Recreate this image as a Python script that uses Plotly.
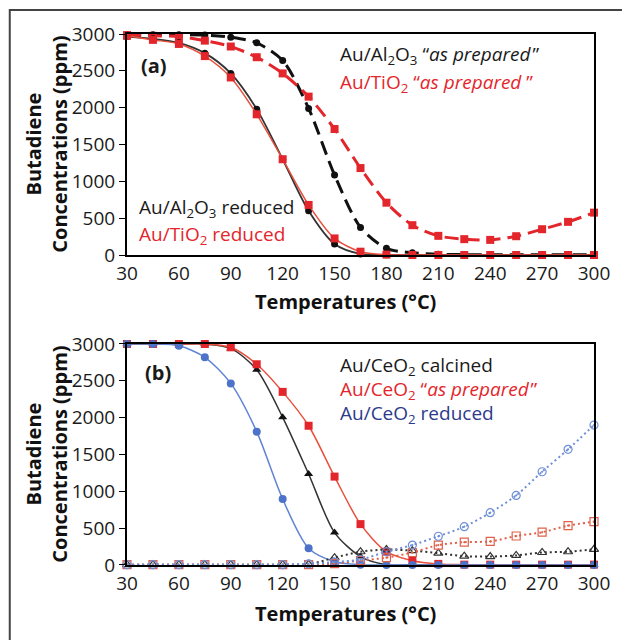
import plotly.graph_objects as go

# Reaction temperatures (°C)
temps = [30, 45, 60, 75, 90, 105, 120, 135, 150, 165, 180, 195, 210, 225, 240, 255, 270, 285, 300]

# (a) Butadiene concentration (ppm)
al2o3_prepared = [2990, 2990, 2990, 2985, 2955, 2880, 2640, 1990, 1085, 375, 90, 30, 10, 5, 5, 5, 5, 5, 5]
tio2_prepared = [2985, 2975, 2965, 2910, 2830, 2685, 2465, 2150, 1710, 1180, 710, 405, 260, 215, 205, 255, 350, 450, 575]
al2o3_reduced = [2965, 2935, 2880, 2740, 2465, 1980, 1300, 600, 150, 15, 3, 0, 0, 0, 0, 0, 0, 0, 0]
tio2_reduced = [2975, 2920, 2865, 2700, 2410, 1910, 1300, 680, 225, 45, 5, 0, 0, 0, 0, 0, 0, 0, 0]

# (b) Butadiene concentration (ppm), solid = butadiene, dotted = by-product
ceo2_calcined = [3000, 3000, 3000, 3000, 2940, 2650, 2005, 1235, 440, 115, 5, 0, 0, 0, 0, 0, 0, 0, 0]
ceo2_prepared = [3000, 3000, 3000, 3000, 2955, 2725, 2350, 1890, 1200, 555, 180, 58, 15, 5, 5, 5, 5, 5, 5]
ceo2_reduced = [3000, 3000, 2975, 2820, 2465, 1810, 895, 227, 45, 5, 0, 0, 0, 0, 0, 0, 0, 0, 0]
ceo2_calcined_dot = [5, 5, 5, 5, 5, 5, 5, 10, 100, 180, 210, 195, 160, 120, 115, 130, 170, 180, 213]
ceo2_prepared_dot = [5, 5, 5, 5, 5, 5, 5, 5, 20, 60, 100, 170, 270, 310, 320, 394, 445, 535, 588]
ceo2_reduced_dot = [5, 5, 5, 5, 5, 5, 5, 15, 40, 75, 180, 271, 390, 520, 710, 945, 1266, 1570, 1900]

x_ticks = [30, 60, 90, 120, 150, 180, 210, 240, 270, 300]
y_ticks = [0, 500, 1000, 1500, 2000, 2500, 3000]

RED = "#e3262b"
RED_LINE = "#e8503c"
BLACK = "#111111"
BLUE = "#4d72c9"
BLUE_LINE = "#5f84d4"
NAVY = "#2e3a8c"
FONT = "Open Sans"

fig = go.Figure()


def series(y, ax, line_color, width, dash, symbol, size, mcolor, mline=None, mline_w=0):
    fig.add_trace(go.Scatter(
        x=temps, y=y, xaxis="x" + ax, yaxis="y" + ax,
        mode="lines+markers", cliponaxis=False, showlegend=False,
        line=dict(color=line_color, width=width, dash=dash, shape="spline", smoothing=0.8),
        marker=dict(symbol=symbol, size=size, color=mcolor,
                    line=dict(color=mline or mcolor, width=mline_w)),
    ))


# panel (a)
series(al2o3_prepared, "", BLACK, 3, "14px,7px", "circle", 7, BLACK)
series(tio2_prepared, "", RED, 3, "14px,7px", "square", 8, RED)
series(al2o3_reduced, "", "#333333", 1.8, "solid", "circle", 7, BLACK)
series(tio2_reduced, "", RED_LINE, 1.5, "solid", "square", 8, RED)

# panel (b)
series(ceo2_calcined, "2", "#333333", 1.5, "solid", "triangle-up", 8, BLACK)
series(ceo2_prepared, "2", RED_LINE, 1.5, "solid", "square", 8, RED)
series(ceo2_reduced, "2", BLUE_LINE, 1.5, "solid", "circle", 8, BLUE)
series(ceo2_calcined_dot, "2", "#333333", 2, "2px,3px", "triangle-up-open", 8, "#333333", mline_w=1.2)
series(ceo2_prepared_dot, "2", "#e0604a", 2, "2px,3px", "square-open-dot", 8, "#e0604a", mline_w=1.2)
series(ceo2_reduced_dot, "2", "#6f8fd8", 2, "2px,3px", "circle-open-dot", 8, "#6f8fd8", mline_w=1.2)

xa = dict(range=[30, 300], tickvals=x_ticks, ticks="", showline=True, linecolor="black",
          linewidth=2, mirror=True, showgrid=False, zeroline=False,
          tickfont=dict(family=FONT, size=19, color="#1a1a1a"))
ya = dict(range=[0, 3000], tickvals=y_ticks, ticks="outside", ticklen=6, tickwidth=1.2,
          tickcolor="black", showline=True, linecolor="black", linewidth=2, mirror=True,
          showgrid=False, zeroline=False, tickfont=dict(family=FONT, size=19, color="#1a1a1a"))

fig.update_layout(
    width=622, height=640,
    margin=dict(l=127, r=21, t=34, b=75),
    paper_bgcolor="white", plot_bgcolor="white",
    xaxis=dict(xa, anchor="y", domain=[0, 1]),
    yaxis=dict(ya, anchor="x", domain=[0.5838, 1]),
    xaxis2=dict(xa, anchor="y2", domain=[0, 1]),
    yaxis2=dict(ya, anchor="x2", domain=[0, 0.4162]),
)


def px(x):
    return (x - 127) / 474


def py(y):
    return (565 - y) / 531


def label(text, x, y, color, size=19, xanchor="left", bold=False, angle=0):
    fig.add_annotation(
        text=f"<b>{text}</b>" if bold else text, x=px(x), y=py(y), xref="paper", yref="paper",
        xanchor=xanchor, yanchor="middle", showarrow=False, textangle=angle,
        font=dict(family=FONT, size=size, color=color),
    )


AL = "Au/Al<sub>2</sub>O<sub>3</sub>"
TI = "Au/TiO<sub>2</sub>"
CE = "Au/CeO<sub>2</sub>"
OPEN_Q = " \u201c"
CLOSE_Q = "\u200a\u201d"

label(f"{AL}{OPEN_Q}<i>as prepared</i>{CLOSE_Q}", 341, 55, "#1a1a1a")
label(f"{TI}{OPEN_Q}<i>as prepared</i> \u201d", 341, 83, RED)
label(f"{AL} reduced", 137, 208, "#1a1a1a")
label(f"{TI} reduced", 137, 235, RED)
label("(a)", 154, 66, "#1a1a1a", size=20, xanchor="center", bold=True)

label(f"{CE} calcined", 341, 366, "#1a1a1a")
label(f"{CE}{OPEN_Q}<i>as prepared</i>{CLOSE_Q}", 341, 390, RED)
label(f"{CE} reduced", 341, 414, NAVY)
label("(b)", 158, 372, "#1a1a1a", size=20, xanchor="center", bold=True)

for yc in (144.5, 454.5):
    label("Butadiene<br>Concentrations (ppm)", 45, yc, "#111111", size=20,
          xanchor="center", bold=True, angle=-90)
for yc in (302, 613):
    label("Temperatures (\u00b0C)", 349, yc, "#111111", size=20, xanchor="center", bold=True)

# outer frame of the figure
fig.add_shape(type="rect", xref="paper", yref="paper",
              x0=px(8), x1=px(640), y0=py(660), y1=py(10),
              line=dict(color="#444444", width=2), fillcolor="rgba(0,0,0,0)", layer="below")

fig.write_html("out.html")
